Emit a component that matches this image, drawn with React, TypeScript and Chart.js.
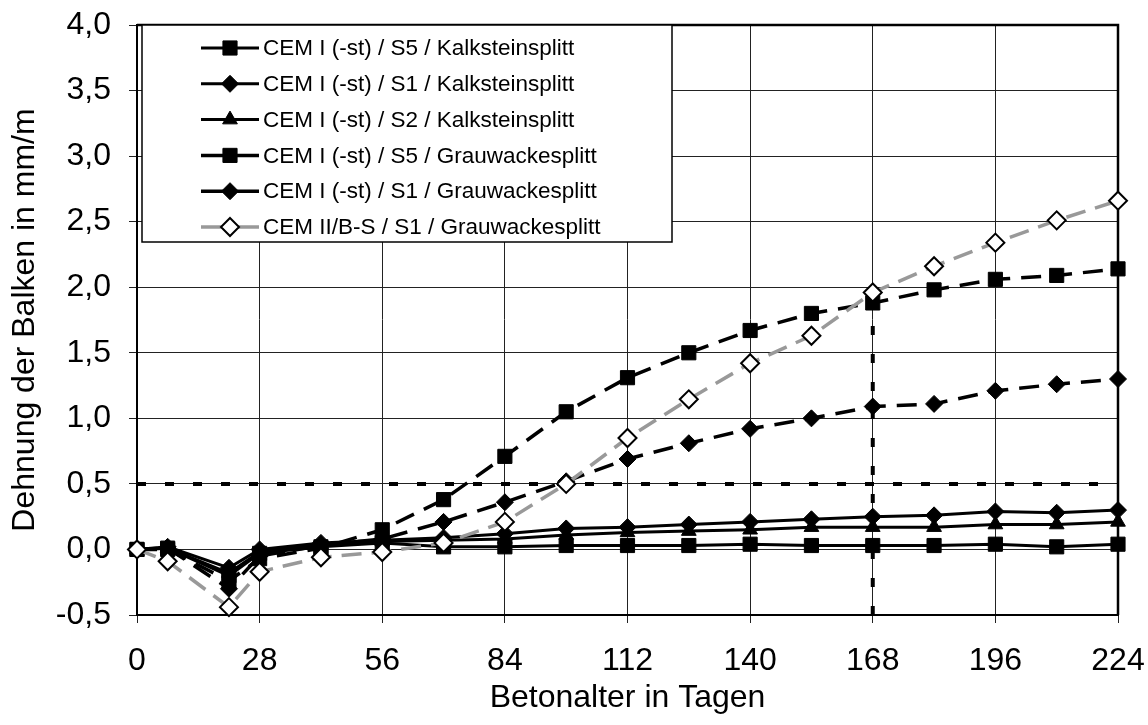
import React, { useEffect, useRef } from "react";
import { Chart, registerables } from "chart.js";

Chart.register(...registerables);

const days = [0, 7, 21, 28, 42, 56, 70, 84, 98, 112, 126, 140, 154, 168, 182, 196, 210, 224];

const s5Kalk = [0, 0.01, -0.2, -0.03, 0.02, 0.05, 0.02, 0.02, 0.03, 0.03, 0.03, 0.04, 0.03, 0.03, 0.03, 0.04, 0.02, 0.04];
const s1Kalk = [0, 0.02, -0.14, 0.0, 0.05, 0.07, 0.09, 0.12, 0.16, 0.17, 0.19, 0.21, 0.23, 0.25, 0.26, 0.29, 0.28, 0.3];
const s2Kalk = [0, 0.01, -0.18, -0.02, 0.04, 0.06, 0.07, 0.08, 0.11, 0.13, 0.14, 0.15, 0.17, 0.17, 0.17, 0.19, 0.19, 0.21];
const s5Grau = [0, 0.0, -0.24, -0.07, 0.01, 0.15, 0.38, 0.71, 1.05, 1.31, 1.5, 1.67, 1.8, 1.88, 1.98, 2.06, 2.09, 2.14];
const s1Grau = [0, 0.01, -0.3, -0.05, 0.03, 0.08, 0.21, 0.36, 0.52, 0.69, 0.81, 0.92, 1.0, 1.09, 1.11, 1.21, 1.26, 1.3];
const cem2Grau = [0, -0.09, -0.44, -0.17, -0.06, -0.02, 0.05, 0.21, 0.5, 0.85, 1.145, 1.42, 1.63, 1.96, 2.16, 2.34, 2.51, 2.66];

const seriesLabels = [
  "CEM I (-st) / S5 / Kalksteinsplitt",
  "CEM I (-st) / S1 / Kalksteinsplitt",
  "CEM I (-st) / S2 / Kalksteinsplitt",
  "CEM I (-st) / S5 / Grauwackesplitt",
  "CEM I (-st) / S1 / Grauwackesplitt",
  "CEM II/B-S / S1 / Grauwackesplitt",
];

const refHX = [0, 224];
const refHY = [0.5, 0.5];
const refVX = [168, 168];
const refVY = [-0.5, 1.88];

const xTickValues = [0, 28, 56, 84, 112, 140, 168, 196, 224];
const yTickValues = [-0.5, 0, 0.5, 1, 1.5, 2, 2.5, 3, 3.5, 4];

const xTitle = "Betonalter in Tagen";
const yTitle = "Dehnung der Balken in mm/m";

const FONT = "'Liberation Sans', Arial, Helvetica, sans-serif";

const toPts = (xs: number[], ys: number[]) => xs.map((x, i) => ({ x, y: ys[i] }));

function drawMarker(ctx: CanvasRenderingContext2D, style: string, x: number, y: number, r: number, fill: string, stroke: string, lw: number) {
  ctx.save();
  ctx.beginPath();
  if (style === "rect") {
    const s = Math.SQRT1_2 * r;
    ctx.rect(x - s, y - s, 2 * s, 2 * s);
  } else if (style === "rectRot") {
    ctx.moveTo(x, y - r);
    ctx.lineTo(x + r, y);
    ctx.lineTo(x, y + r);
    ctx.lineTo(x - r, y);
    ctx.closePath();
  } else if (style === "triangle") {
    for (let i = 0; i < 3; i++) {
      const a = (i * 2 * Math.PI) / 3;
      const px = x + Math.sin(a) * r;
      const py = y - Math.cos(a) * r;
      if (i === 0) ctx.moveTo(px, py);
      else ctx.lineTo(px, py);
    }
    ctx.closePath();
  }
  ctx.setLineDash([]);
  ctx.fillStyle = fill;
  ctx.fill();
  ctx.lineWidth = lw;
  ctx.strokeStyle = stroke;
  ctx.stroke();
  ctx.restore();
}

const framePlugin = {
  id: "frame",
  beforeDatasetsDraw(chart: any) {
    const { ctx, chartArea } = chart;
    ctx.save();
    ctx.strokeStyle = "#000";
    ctx.lineWidth = 2.5;
    ctx.beginPath();
    ctx.moveTo(chartArea.left, chartArea.top);
    ctx.lineTo(chartArea.right, chartArea.top);
    ctx.lineTo(chartArea.right, chartArea.bottom);
    ctx.stroke();
    ctx.restore();
  },
};

const legendPlugin = {
  id: "customLegend",
  afterDraw(chart: any) {
    const { ctx } = chart;
    const bx = 142, by = 25, bw = 530, bh = 217;
    ctx.save();
    ctx.fillStyle = "#fff";
    ctx.fillRect(bx, by, bw, bh);
    ctx.strokeStyle = "#000";
    ctx.lineWidth = 1.5;
    ctx.strokeRect(bx, by, bw, bh);
    const rowH = 35.8;
    const items = chart.data.datasets.filter((d: any) => d.inLegend);
    items.forEach((d: any, i: number) => {
      const cy = by + 23 + i * rowH;
      ctx.save();
      ctx.strokeStyle = d.borderColor;
      ctx.lineWidth = d.borderWidth;
      ctx.setLineDash([]);
      ctx.beginPath();
      ctx.moveTo(201, cy);
      ctx.lineTo(259, cy);
      ctx.stroke();
      ctx.restore();
      drawMarker(ctx, d.pointStyle, 230, cy, d.pointRadius, d.pointBackgroundColor, d.pointBorderColor, d.pointBorderWidth);
      ctx.fillStyle = "#000";
      ctx.font = `22.5px ${FONT}`;
      ctx.textBaseline = "middle";
      ctx.textAlign = "left";
      ctx.fillText(d.label, 263, cy + 1);
    });
    ctx.restore();
  },
};

export default function App() {
  const ref = useRef<HTMLCanvasElement | null>(null);

  useEffect(() => {
    document.body.style.margin = "0";
    if (!ref.current) return;

    const mk = (label: string, ys: number[], style: string, radius: number, color: string, dash: number[], opts: any = {}) => ({
      label,
      data: toPts(days, ys),
      borderColor: color,
      borderWidth: 3,
      borderDash: dash,
      pointStyle: style,
      pointRadius: radius,
      pointBackgroundColor: "#000",
      pointBorderColor: "#000",
      pointBorderWidth: 1,
      tension: 0,
      clip: false,
      inLegend: true,
      ...opts,
    });

    const datasets: any[] = [
      mk(seriesLabels[5], cem2Grau, "rectRot", 9, "#999999", [20, 10], {
        pointBackgroundColor: "#fff",
        pointBorderColor: "#000",
        pointBorderWidth: 2,
        borderWidth: 3.5,
        order: 0,
      }),
      mk(seriesLabels[4], s1Grau, "rectRot", 8.5, "#000", [20, 11], { borderWidth: 3.5, order: 1 }),
      mk(seriesLabels[3], s5Grau, "rect", 10, "#000", [20, 11], { borderWidth: 3.5, order: 2 }),
      mk(seriesLabels[2], s2Kalk, "triangle", 8.5, "#000", [], { order: 3 }),
      mk(seriesLabels[1], s1Kalk, "rectRot", 8.5, "#000", [], { order: 4 }),
      mk(seriesLabels[0], s5Kalk, "rect", 10, "#000", [], { order: 5 }),
      {
        label: "ref0.5",
        data: toPts(refHX, refHY),
        borderColor: "#000",
        borderWidth: 4,
        borderDash: [9, 19],
        pointRadius: 0,
        clip: false,
        inLegend: false,
        order: 10,
      },
      {
        label: "ref168",
        data: toPts(refVX, refVY),
        borderColor: "#000",
        borderWidth: 4,
        borderDash: [9, 19],
        pointRadius: 0,
        clip: false,
        inLegend: false,
        order: 11,
      },
    ];
    const ordered = seriesLabels
      .map((l) => datasets.find((d) => d.label === l))
      .concat(datasets.filter((d) => !d.inLegend));

    const chart = new Chart(ref.current, {
      type: "line",
      data: { datasets: ordered },
      options: {
        animation: false,
        responsive: false,
        maintainAspectRatio: false,
        layout: { padding: { left: 0, right: 30, top: 25, bottom: 0 } },
        plugins: {
          legend: { display: false },
          tooltip: { enabled: false },
        },
        scales: {
          x: {
            type: "linear",
            min: 0,
            max: 224,
            afterFit: (s: any) => {
              s.height = 110;
              s.paddingLeft = 0;
              s.paddingRight = 0;
            },
            afterBuildTicks: (s: any) => {
              s.ticks = xTickValues.map((v) => ({ value: v }));
            },
            ticks: {
              color: "#000",
              font: { family: FONT, size: 32 },
              padding: 19,
              maxRotation: 0,
              autoSkip: false,
              callback: (v: any) => String(v),
            },
            grid: { color: "#222", lineWidth: 1, tickLength: 8, drawTicks: true },
            border: { display: true, color: "#000", width: 2 },
            title: {
              display: true,
              text: xTitle,
              color: "#000",
              font: { family: FONT, size: 32, lineHeight: 1 },
              padding: { top: 0, bottom: 11 },
            },
          },
          y: {
            type: "linear",
            min: -0.5,
            max: 4,
            afterFit: (s: any) => {
              s.width = 137;
              s.paddingTop = 0;
              s.paddingBottom = 0;
            },
            afterBuildTicks: (s: any) => {
              s.ticks = yTickValues.map((v) => ({ value: v }));
            },
            ticks: {
              color: "#000",
              font: { family: FONT, size: 32 },
              padding: 18,
              autoSkip: false,
              callback: (v: any) => Number(v).toFixed(1).replace(".", ","),
            },
            grid: { color: "#222", lineWidth: 1, tickLength: 8, drawTicks: true },
            border: { display: true, color: "#000", width: 2 },
            title: {
              display: true,
              text: yTitle,
              color: "#000",
              font: { family: FONT, size: 32, lineHeight: 1 },
              padding: { top: 9, bottom: 0 },
            },
          },
        },
      } as any,
      plugins: [framePlugin, legendPlugin],
    });
    return () => chart.destroy();
  }, []);

  return (
    <div style={{ width: 1148, height: 725, background: "#fff" }}>
      <canvas ref={ref} width={1148} height={725} style={{ display: "block" }} />
    </div>
  );
}
